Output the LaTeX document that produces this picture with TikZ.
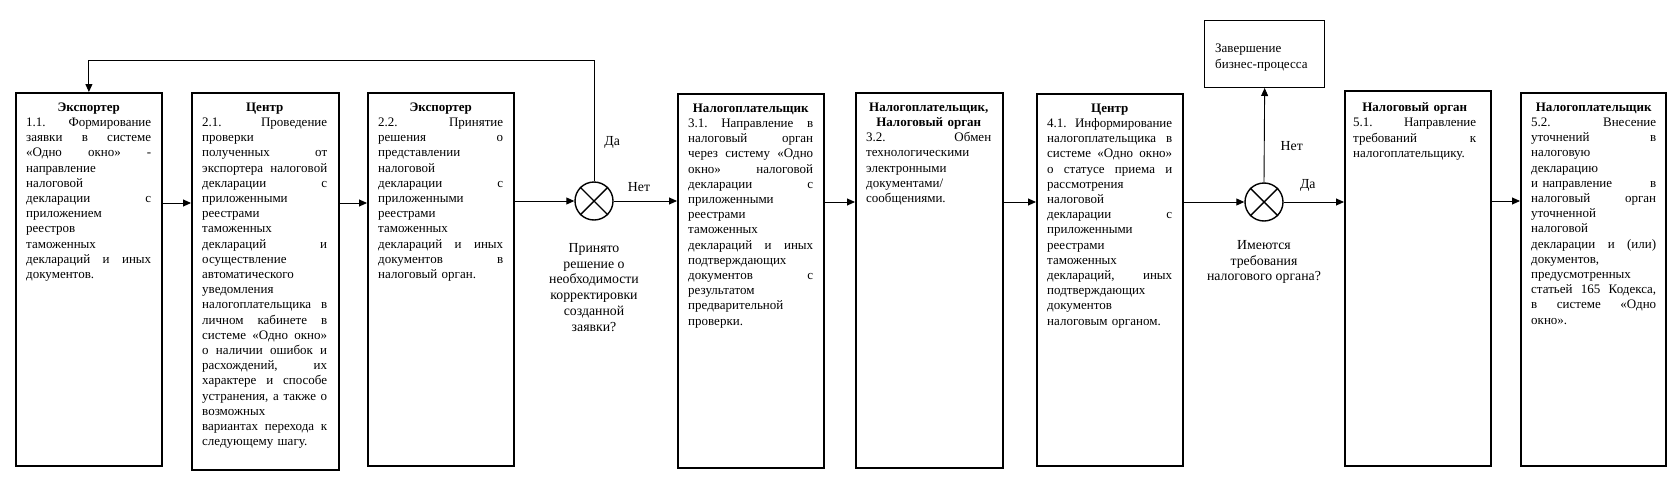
\documentclass[tikz,border=0pt]{standalone}
\usepackage{fontspec}
\setmainfont{Liberation Serif}
\usetikzlibrary{arrows.meta}
\setlength{\parindent}{0pt}
\newcommand\hd[1]{\hbox to \linewidth{\hss\textbf{#1}\hss}}
\tikzset{
  box/.style={draw, line width=1.8pt, anchor=north west, inner sep=0pt, minimum width=146pt},
  txt/.style={text width=125pt, align=left, inner sep=0pt, anchor=north west,
    font=\fontsize{13}{15.2}\selectfont},
  lbl/.style={inner sep=0pt, font=\fontsize{13.8}{15.8}\selectfont, align=center},
  arr/.style={line width=0.9pt, -{Triangle[length=8pt,width=7pt]}},
  dec/.style={draw, circle, line width=1.4pt, minimum size=38pt, inner sep=0pt},
}
\begin{document}
\begin{tikzpicture}[x=1pt, y=-1pt]
\useasboundingbox (0,0) rectangle (1676,482);

% boxes
\node[box, minimum height=373pt] (b1) at (15,92) {};
\node[box, minimum height=377pt, minimum width=147pt] (b2) at (191,92) {};
\node[box, minimum height=373pt] (b3) at (367,92) {};
\node[box, minimum height=374pt] (b4) at (677,93) {};
\node[box, minimum height=375pt, minimum width=147pt] (b5) at (855,92) {};
\node[box, minimum height=372pt] (b6) at (1036,93) {};
\node[box, minimum height=375pt] (b7) at (1344,90) {};
\node[box, minimum height=373pt, minimum width=145pt] (b8) at (1520,92) {};
\node[box, line width=1.3pt, minimum width=120pt, minimum height=67pt] (end) at (1204,20) {};

% decision circles
\node[dec] (c1) at (594,201) {};
\draw[line width=1.4pt] (c1.45) -- (c1.225) (c1.135) -- (c1.315);
\node[dec] (c2) at (1264,202) {};
\draw[line width=1.4pt] (c2.45) -- (c2.225) (c2.135) -- (c2.315);

% texts
\node[txt] (t1) at ([xshift=11pt,yshift=-10.5pt]b1.north west) {%
\hd{Экспортер}
1.1.\hfill Формирование\\
заявки\hfill в\hfill системе\\
«Одно\hfill окно»\hfill -\\
направление\\
налоговой\\
декларации\hfill с\\
приложением\\
реестров\\
таможенных\\
деклараций\hfill и\hfill иных\\
документов.};

\node[txt] (t2) at ([xshift=11pt,yshift=-10.5pt]b2.north west) {%
\hd{Центр}
2.1.\hfill Проведение\\
проверки\\
полученных\hfill от\\
экспортера\hfill налоговой\\
декларации\hfill с\\
приложенными\\
реестрами\\
таможенных\\
деклараций\hfill и\\
осуществление\\
автоматического\\
уведомления\\
налогоплательщика\hfill в\\
личном\hfill кабинете\hfill в\\
системе\hfill «Одно\hfill окно»\\
о\hfill наличии\hfill ошибок\hfill и\\
расхождений,\hfill их\\
характере\hfill и\hfill способе\\
устранения,\hfill а\hfill также\hfill о\\
возможных\\
вариантах\hfill перехода\hfill к\\
следующему шагу.};

\node[txt] (t3) at ([xshift=11pt,yshift=-10.5pt]b3.north west) {%
\hd{Экспортер}
2.2.\hfill Принятие\\
решения\hfill о\\
представлении\\
налоговой\\
декларации\hfill с\\
приложенными\\
реестрами\\
таможенных\\
деклараций\hfill и\hfill иных\\
документов\hfill в\\
налоговый орган.};

\node[txt] (t4) at ([xshift=11pt,yshift=-10.5pt]b4.north west) {%
\hd{Налогоплательщик}
3.1.\hfill Направление\hfill в\\
налоговый\hfill орган\\
через\hfill систему\hfill «Одно\\
окно»\hfill налоговой\\
декларации\hfill с\\
приложенными\\
реестрами\\
таможенных\\
деклараций\hfill и\hfill иных\\
подтверждающих\\
документов\hfill с\\
результатом\\
предварительной\\
проверки.};

\node[txt] (t5) at ([xshift=11pt,yshift=-10.5pt]b5.north west) {%
\hd{Налогоплательщик,}
\hd{Налоговый орган}
3.2.\hfill Обмен\\
технологическими\\
электронными\\
документами/\\
сообщениями.};

\node[txt] (t6) at ([xshift=11pt,yshift=-10.5pt]b6.north west) {%
\hd{Центр}
4.1.\hfill Информирование\\
налогоплательщика\hfill в\\
системе\hfill «Одно\hfill окно»\\
о\hfill статусе\hfill приема\hfill и\\
рассмотрения\\
налоговой\\
декларации\hfill с\\
приложенными\\
реестрами\\
таможенных\\
деклараций,\hfill иных\\
подтверждающих\\
документов\\
налоговым органом.};

\node[txt, text width=123pt] (t7) at ([xshift=9pt,yshift=-12.5pt]b7.north west) {%
\hd{Налоговый орган}
5.1.\hfill Направление\\
требований\hfill к\\
налогоплательщику.};

\node[txt] (t8) at ([xshift=11pt,yshift=-10.5pt]b8.north west) {%
\hd{Налогоплательщик}
5.2.\hfill Внесение\\
уточнений\hfill в\\
налоговую\\
декларацию\\
и направление\hfill в\\
налоговый\hfill орган\\
уточненной\\
налоговой\\
декларации\hfill и\hfill (или)\\
документов,\\
предусмотренных\\
статьей\hfill 165\hfill Кодекса,\\
в\hfill системе\hfill «Одно\\
окно».};

\node[lbl, font=\fontsize{13}{16}\selectfont, align=left, anchor=north west] (tend) at ([xshift=11pt,yshift=-24pt]end.north west) {Завершение\\бизнес-процесса};

% decision labels
\node[lbl, anchor=north] (q1) at (594,243) {Принято\\решение о\\необходимости\\корректировки\\созданной\\заявки?};
\node[lbl, anchor=north] (q2) at (1264,240) {Имеются\\требования\\налогового органа?};

% connectors
\coordinate (r1) at (0,203);
\coordinate (top) at (0,60);
\draw[arr] (b1.east |- r1) -- (b2.west |- r1);
\draw[arr] (b2.east |- r1) -- (b3.west |- r1);
\draw[arr] (b3.east |- c1) -- (c1.west);
\draw[arr] (c1.east) -- node[lbl, above=9pt, pos=0.4] (n1) {Нет} (b4.west |- c1);
\draw[arr] (c1.north) -- node[lbl, right=10pt, pos=0.32] (y1) {Да} (c1 |- top) -- (b1.north |- top) -- (b1.north);
\draw[arr] (b4.east |- 0,202) -- (b5.west |- 0,202);
\draw[arr] (b5.east |- 0,202) -- (b6.west |- 0,202);
\draw[arr] (b6.east |- c2) -- (c2.west);
\draw[arr] (c2.east) -- node[lbl, above=10pt, pos=0.4] (y2) {Да} (b7.west |- c2);
\draw[arr] (c2.north) -- node[lbl, right=16pt, pos=0.38] (n2) {Нет} (end.south |- 0,88);
\draw[arr] (b7.east |- 0,201) -- (b8.west |- 0,201);
\end{tikzpicture}
\end{document}
